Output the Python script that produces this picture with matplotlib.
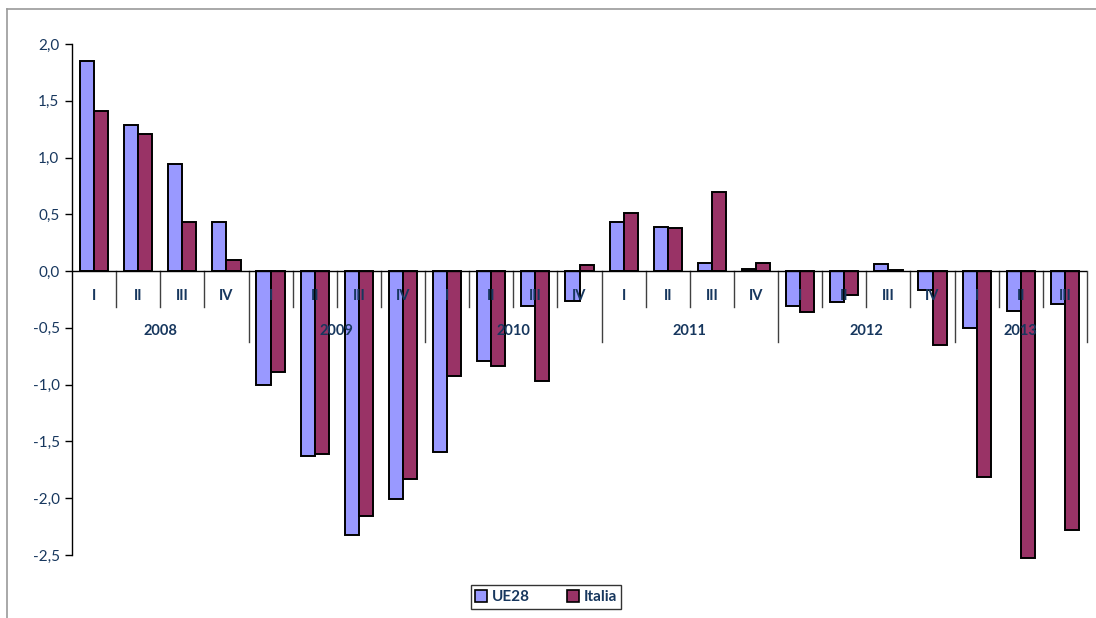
import matplotlib
matplotlib.use("Agg")
import matplotlib.pyplot as plt
from matplotlib.patches import Patch
from matplotlib.lines import Line2D

plt.rcParams['font.family'] = ['Lato', 'DejaVu Sans']

years = ["2008", "2009", "2010", "2011", "2012", "2013"]
quarters = ["I", "II", "III", "IV", "I", "II", "III", "IV", "I", "II", "III", "IV",
            "I", "II", "III", "IV", "I", "II", "III", "IV", "I", "II", "III"]
quarters_per_year = [4, 4, 4, 4, 4, 3]

ue28 = [1.85, 1.29, 0.94, 0.43,
        -1.00, -1.63, -2.32, -2.01,
        -1.59, -0.79, -0.31, -0.26,
        0.43, 0.39, 0.07, 0.02,
        -0.31, -0.27, 0.06, -0.17,
        -0.50, -0.35, -0.29]
italia = [1.41, 1.21, 0.43, 0.10,
          -0.89, -1.61, -2.16, -1.83,
          -0.92, -0.84, -0.97, 0.05,
          0.51, 0.38, 0.70, 0.07,
          -0.36, -0.21, 0.01, -0.65,
          -1.81, -2.53, -2.28]

C_UE = "#9999FF"
C_IT = "#993366"
TXT = "#17375E"

W, H = 1096, 618
fig = plt.figure(figsize=(W / 100, H / 100), dpi=100)

# outer chart frame
fig.add_artist(Line2D([7 / W, 7 / W], [0, 1 - 9 / H], color="#9A9A9A", lw=1.2))
fig.add_artist(Line2D([7 / W, 1], [1 - 9 / H, 1 - 9 / H], color="#9A9A9A", lw=1.2))

ax_l, ax_r, ax_t, ax_b = 72, 1087, 44, 555
ax = fig.add_axes([ax_l / W, 1 - ax_b / H, (ax_r - ax_l) / W, (ax_b - ax_t) / H])

n = len(quarters)
bw = 0.32
xs = [i + 0.5 for i in range(n)]
ax.bar([x - bw / 2 for x in xs], ue28, width=bw, color=C_UE, edgecolor="black",
       linewidth=1.4, zorder=3, clip_on=False)
ax.bar([x + bw / 2 for x in xs], italia, width=bw, color=C_IT, edgecolor="black",
       linewidth=1.4, zorder=3, clip_on=False)

ax.set_xlim(0, n)
ax.set_ylim(-2.5, 2.0)
yt = [-2.5, -2.0, -1.5, -1.0, -0.5, 0.0, 0.5, 1.0, 1.5, 2.0]
ax.set_yticks(yt)
ax.set_yticklabels([f"{v:.1f}".replace(".", ",") for v in yt], fontsize=11)
ax.tick_params(axis="y", direction="out", length=5, width=1, colors="black", pad=4)
for lab in ax.get_yticklabels():
    lab.set_color(TXT)
ax.set_xticks([])
for s in ["top", "right", "bottom"]:
    ax.spines[s].set_visible(False)
ax.spines["left"].set_linewidth(1)

# category axis at zero
ppu = (ax_b - ax_t) / 4.5
ax.axhline(0, color="black", lw=1, zorder=4)
short = -36 / ppu
long_ = -71 / ppu
year_bounds = [0]
for q in quarters_per_year:
    year_bounds.append(year_bounds[-1] + q)
for b in range(1, n + 1):
    d = long_ if b in year_bounds else short
    ax.plot([b, b], [0, d], color="#404040", lw=1, zorder=2, clip_on=False)

for x, q in zip(xs, quarters):
    ax.annotate(q, (x, 0), xytext=(0, -25), textcoords="offset pixels",
                ha="center", va="center", fontsize=10.5, fontweight="bold",
                color=TXT, zorder=6)
for k, y in enumerate(years):
    cx = (year_bounds[k] + year_bounds[k + 1]) / 2
    ax.annotate(y, (cx, 0), xytext=(0, -60), textcoords="offset pixels",
                ha="center", va="center", fontsize=10.5, fontweight="bold",
                color=TXT, zorder=6)

handles = [Patch(facecolor=C_UE, edgecolor="black", linewidth=1.2, label="UE28"),
           Patch(facecolor=C_IT, edgecolor="black", linewidth=1.2, label="Italia")]
leg = fig.legend(handles=handles, loc="center", bbox_to_anchor=(546 / W, 1 - 597 / H),
                 ncol=2, frameon=True, fancybox=False, edgecolor="black",
                 handlelength=0.8, handleheight=0.8, handletextpad=0.3,
                 columnspacing=2.4, borderpad=0.3, borderaxespad=0,
                 prop={"size": 11, "weight": "bold"})
leg.get_frame().set_linewidth(1)
for t in leg.get_texts():
    t.set_color(TXT)

fig.savefig("out.png", dpi=100)
